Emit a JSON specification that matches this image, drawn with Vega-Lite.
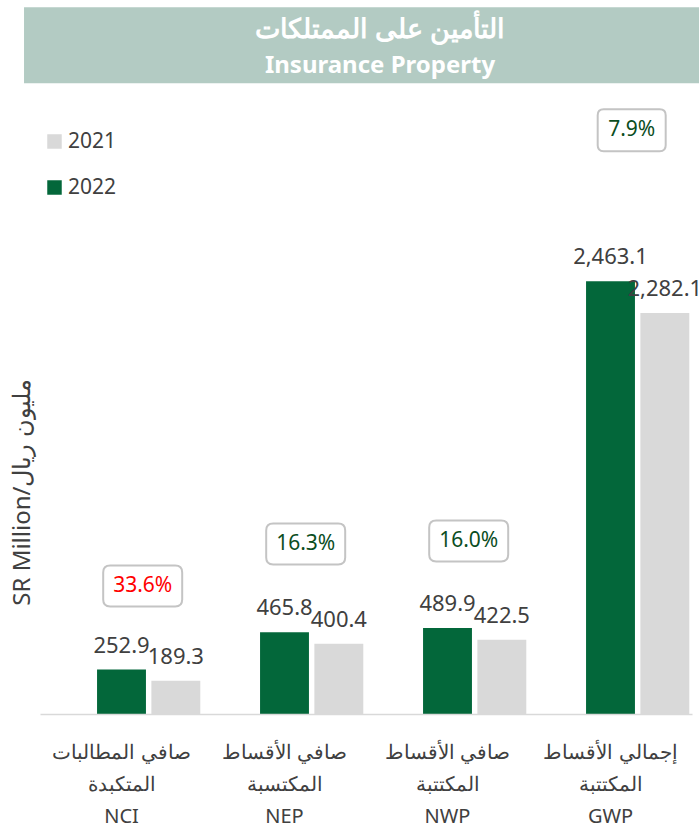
{
  "$schema": "https://vega.github.io/schema/vega-lite/v6.json",
  "autosize": {"type": "none"},
  "padding": {"left": 40, "top": 99, "right": 7, "bottom": 114},
  "width": 652,
  "height": 615,
  "background": "white",
  "config": {
    "view": {"stroke": null},
    "font": "Noto Sans"
  },
  "datasets": {
    "bars": [
      {"cat": "NCI", "series": "2022", "value": 252.9},
      {"cat": "NCI", "series": "2021", "value": 189.3},
      {"cat": "NEP", "series": "2022", "value": 465.8},
      {"cat": "NEP", "series": "2021", "value": 400.4},
      {"cat": "NWP", "series": "2022", "value": 489.9},
      {"cat": "NWP", "series": "2021", "value": 422.5},
      {"cat": "GWP", "series": "2022", "value": 2463.1},
      {"cat": "GWP", "series": "2021", "value": 2282.1}
    ],
    "badges": [
      {"cat": "NCI", "growth": "33.6%", "trend": "adverse", "badge_y": 728},
      {"cat": "NEP", "growth": "16.3%", "trend": "favorable", "badge_y": 967},
      {"cat": "NWP", "growth": "16.0%", "trend": "favorable", "badge_y": 984},
      {"cat": "GWP", "growth": "7.9%", "trend": "favorable", "badge_y": 3322}
    ],
    "titles": [
      {"line": "التأمين على الممتلكات", "pos": 3893, "size": "main"},
      {"line": "Insurance Property", "pos": 3689, "size": "sub"}
    ]
  },
  "layer": [
    {
      "data": {"values": [{"banner": "title"}]},
      "mark": {"type": "rect", "color": "#B3CBC3"},
      "encoding": {
        "x": {"datum": "NCI", "type": "nominal", "bandPosition": -0.098},
        "x2": {"datum": "GWP", "bandPosition": 1.05},
        "y": {"datum": 4022, "type": "quantitative"},
        "y2": {"datum": 3589}
      }
    },
    {
      "data": {"name": "titles"},
      "transform": [{"filter": "datum.size == 'main'"}],
      "mark": {"type": "text", "color": "white", "fontWeight": "bold", "fontSize": 27, "align": "center", "baseline": "middle"},
      "encoding": {
        "x": {"datum": "NEP", "type": "nominal", "bandPosition": 1.086},
        "y": {"field": "pos", "type": "quantitative"},
        "text": {"field": "line", "type": "nominal"}
      }
    },
    {
      "data": {"name": "titles"},
      "transform": [{"filter": "datum.size == 'sub'"}],
      "mark": {"type": "text", "color": "white", "fontWeight": "bold", "fontSize": 24, "align": "center", "baseline": "middle"},
      "encoding": {
        "x": {"datum": "NEP", "type": "nominal", "bandPosition": 1.086},
        "y": {"field": "pos", "type": "quantitative"},
        "text": {"field": "line", "type": "nominal"}
      }
    },
    {
      "data": {"name": "bars"},
      "mark": {"type": "bar"},
      "encoding": {
        "x": {
          "field": "cat",
          "type": "nominal",
          "scale": {"domain": ["NCI", "NEP", "NWP", "GWP"], "paddingInner": 0, "paddingOuter": 0},
          "axis": {
            "title": null,
            "labelAngle": 0,
            "labelAlign": "center",
            "ticks": false,
            "tickSize": 0,
            "labelPadding": 28,
            "labelFontSize": 20,
            "labelColor": "#404040",
            "labelLineHeight": 32,
            "labelBaseline": "top",
            "domainColor": "#D9D9D9",
            "domainWidth": 1.5,
            "labelExpr": "datum.value == 'NCI' ? ['صافي المطالبات','المتكبدة','NCI'] : datum.value == 'NEP' ? ['صافي الأقساط','المكتسبة','NEP'] : datum.value == 'NWP' ? ['صافي الأقساط','المكتتبة','NWP'] : ['إجمالي الأقساط','المكتتبة','GWP']"
          }
        },
        "xOffset": {
          "field": "series",
          "type": "nominal",
          "scale": {"domain": ["blank", "2022", "2021"], "paddingInner": 0.1, "paddingOuter": 0.05}
        },
        "y": {
          "field": "value",
          "type": "quantitative",
          "scale": {"domain": [0, 3500], "nice": false, "zero": true},
          "axis": {
            "title": "SR Million/مليون ريال",
            "labels": false,
            "ticks": false,
            "domain": false,
            "grid": false,
            "titleFontSize": 24,
            "titleFontWeight": "normal",
            "titleColor": "#404040",
            "titleAngle": -90,
            "titleAlign": "center",
            "titleBaseline": "middle",
            "titleX": -18,
            "titleY": 393
          }
        },
        "color": {
          "field": "series",
          "type": "nominal",
          "scale": {"domain": ["2021", "2022"], "range": ["#D9D9D9", "#03673A"]},
          "legend": {
            "title": null,
            "orient": "none",
            "legendX": 4,
            "legendY": 32,
            "symbolType": "square",
            "symbolSize": 210,
            "symbolStrokeWidth": 0,
            "labelFontSize": 21,
            "labelColor": "#404040",
            "labelOffset": 3,
            "rowPadding": 24,
            "padding": 0
          }
        }
      }
    },
    {
      "data": {"name": "bars"},
      "mark": {"type": "text", "fontSize": 22, "color": "#404040", "baseline": "middle", "dy": -24},
      "encoding": {
        "x": {"field": "cat", "type": "nominal"},
        "xOffset": {"field": "series", "type": "nominal"},
        "y": {"field": "value", "type": "quantitative"},
        "text": {"field": "value", "type": "quantitative", "format": ",.1f"}
      }
    },
    {
      "data": {"name": "badges"},
      "transform": [{"filter": "datum.cat != 'GWP'"}],
      "mark": {
        "type": "point",
        "filled": true,
        "fill": "white",
        "stroke": "#C4C4C4",
        "strokeWidth": 2,
        "opacity": 1,
        "size": 6241,
        "shape": "M -0.823 -0.519 L 0.823 -0.519 Q 1 -0.519 1 -0.342 L 1 0.342 Q 1 0.519 0.823 0.519 L -0.823 0.519 Q -1 0.519 -1 0.342 L -1 -0.342 Q -1 -0.519 -0.823 -0.519 Z"
      },
      "encoding": {
        "x": {"field": "cat", "type": "nominal", "bandPosition": 0.63},
        "y": {"field": "badge_y", "type": "quantitative"}
      }
    },
    {
      "data": {"name": "badges"},
      "transform": [{"filter": "datum.cat == 'GWP'"}],
      "mark": {
        "type": "point",
        "filled": true,
        "fill": "white",
        "stroke": "#C4C4C4",
        "strokeWidth": 2,
        "opacity": 1,
        "size": 4624,
        "shape": "M -0.824 -0.618 L 0.824 -0.618 Q 1 -0.618 1 -0.442 L 1 0.442 Q 1 0.618 0.824 0.618 L -0.824 0.618 Q -1 0.618 -1 0.442 L -1 -0.442 Q -1 -0.618 -0.824 -0.618 Z"
      },
      "encoding": {
        "x": {"field": "cat", "type": "nominal", "bandPosition": 0.63},
        "y": {"field": "badge_y", "type": "quantitative"}
      }
    },
    {
      "data": {"name": "badges"},
      "mark": {"type": "text", "fontSize": 21, "baseline": "middle", "align": "center"},
      "encoding": {
        "x": {"field": "cat", "type": "nominal", "bandPosition": 0.63},
        "y": {"field": "badge_y", "type": "quantitative"},
        "text": {"field": "growth", "type": "nominal"},
        "fill": {
          "field": "trend",
          "type": "nominal",
          "scale": {"domain": ["adverse", "favorable"], "range": ["#FF0000", "#0B4D1E"]},
          "legend": null
        }
      }
    }
  ]
}
